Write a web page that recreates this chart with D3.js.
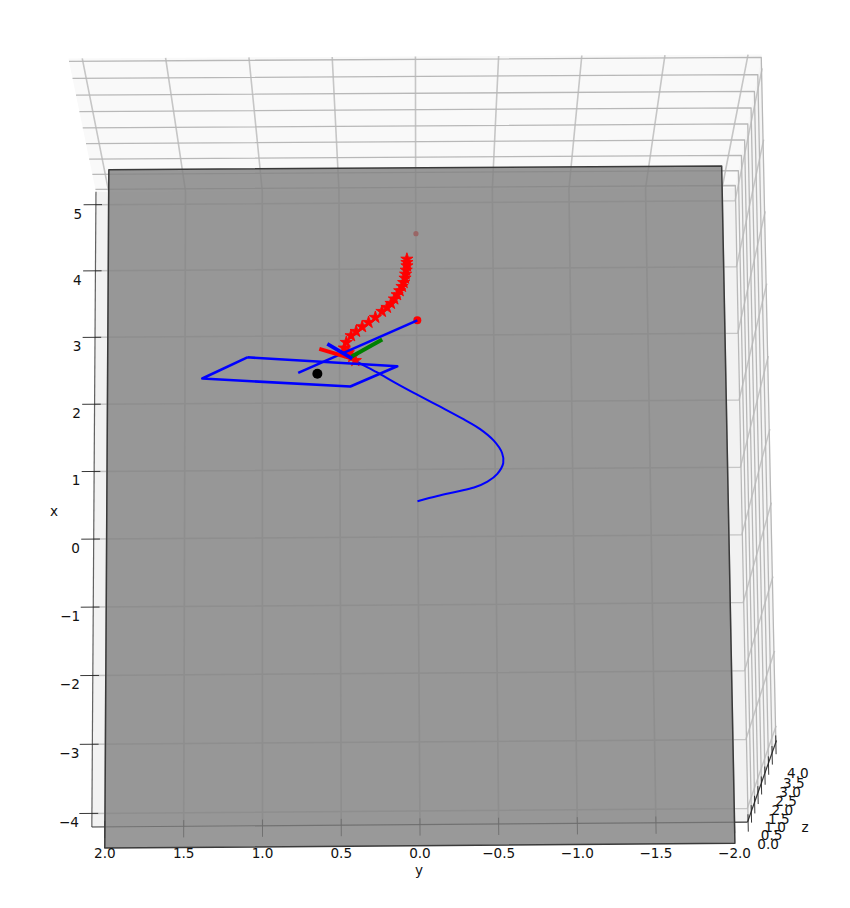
<!DOCTYPE html>
<html><head><meta charset="utf-8">
<script src="https://cdnjs.cloudflare.com/ajax/libs/d3/7.8.5/d3.min.js"></script>
<style>html,body{margin:0;padding:0;background:#fff}svg{display:block}text{font-family:"DejaVu Sans",sans-serif;font-size:13.6px;fill:#111}</style>
</head><body><svg id="c" width="850" height="908"></svg>
<script>
// ---- tick labels
const xTicks=[5,4,3,2,1,0,-1,-2,-3,-4];
const yTicks=[2,1.5,1,0.5,0,-0.5,-1,-1.5,-2];
const zTicks=[0,0.5,1,1.5,2,2.5,3,3.5,4];
// ---- axis limits and ground plane
const xLim=[-4.196,5.196], yLim=[-2.083,2.083], zLim=[-0.083,4.083];
const planeX=[-4.5,5.53], planeY=[-2,2];
// ---- series, as read on the ground plane (x, y)
const curveX=[0.527,0.601,0.667,0.724,0.810,0.925,1.085,1.234,1.422,1.592,1.741,1.930,2.115,2.279,2.452,2.586,2.627];
const curveY=[0.002,-0.127,-0.256,-0.363,-0.450,-0.514,-0.553,-0.546,-0.492,-0.406,-0.299,-0.149,0.002,0.131,0.260,0.368,0.398];
const starX=[4.147,4.096,4.046,3.981,3.921,3.861,3.795,3.736,3.671,3.612,3.548,3.482,3.422,3.362,3.273,3.198,3.134,3.064,3.000,2.900,2.816,2.746,2.686,2.627];
const starY=[0.060,0.060,0.060,0.065,0.069,0.073,0.082,0.093,0.108,0.125,0.143,0.165,0.191,0.224,0.267,0.311,0.353,0.392,0.425,0.456,0.469,0.443,0.418,0.398];
const gateX=[2.686,2.537,2.239,2.373,2.686];
const gateY=[1.097,0.127,0.431,1.388,1.097];
const longX=[3.224,2.448], longY=[-0.005,0.768];
const shortBlueX=[2.880,2.656], shortBlueY=[0.579,0.418];
const shortRedX=[2.806,2.656], shortRedY=[0.631,0.418];
const shortGreenX=[2.686,2.940], shortGreenY=[0.424,0.223];
const tipPoint=[3.224,-0.005], blackPoint=[2.433,0.644], faintPoint=[4.531,0.0];

// ---- camera calibration: box corners and tick feet (world -> screen)
const [x0,x1]=xLim,[y0,y1]=yLim,[z0,z1]=zLim;
const calib=[
 [x1,y1,z0,96,192],[x1,y0,z0,735,187],[x1,y1,z1,68,58],[x1,y0,z1,762,55],
 [x0,y1,z0,92,827],[x0,y0,z0,747,822],[x0,y0,z1,777,740],
 [5,y1,z0,96,205],[-4,y1,z0,92,814],[0,y1,z0,94,539],
 [x0,2,z0,105,826.5],[x0,0,z0,419,824.5],[x0,-2,z0,735,822.5],
 [x1,y1,4,69,61],[x1,y0,4,761,58]
];
function solve(A,b){const n=b.length,M=A.map((r,i)=>[...r,b[i]]);
 for(let i=0;i<n;i++){let p=i;for(let k=i+1;k<n;k++)if(Math.abs(M[k][i])>Math.abs(M[p][i]))p=k;[M[i],M[p]]=[M[p],M[i]];
  for(let k=i+1;k<n;k++){const f=M[k][i]/M[i][i];for(let j=i;j<=n;j++)M[k][j]-=f*M[i][j];}}
 const s=Array(n).fill(0);for(let i=n-1;i>=0;i--){let t=M[i][n];for(let j=i+1;j<n;j++)t-=M[i][j]*s[j];s[i]=t/M[i][i];}return s;}
const rows=[],rhs=[];
calib.forEach(([x,y,z,u,v])=>{
 rows.push([x,y,z,1,0,0,0,0,-u*x,-u*y,-u*z]);rhs.push(u);
 rows.push([0,0,0,0,x,y,z,1,-v*x,-v*y,-v*z]);rhs.push(v);});
const ATA=d3.range(11).map(i=>d3.range(11).map(j=>d3.sum(rows,r=>r[i]*r[j])));
const ATb=d3.range(11).map(i=>d3.sum(rows,(r,k)=>r[i]*rhs[k]));
const P=solve(ATA,ATb);
function proj(x,y,z){const w=P[8]*x+P[9]*y+P[10]*z+1;
 return [(P[0]*x+P[1]*y+P[2]*z+P[3])/w,(P[4]*x+P[5]*y+P[6]*z+P[7])/w];}
const fp=(x,y)=>proj(x,y,z0);

const svg=d3.select("#c");
const poly=(pts,fill,stroke,sw,op)=>svg.append("path").attr("d",d3.line()(pts)+"Z").attr("fill",fill).attr("stroke",stroke||"none").attr("stroke-width",sw||0).attr("fill-opacity",op==null?1:op).attr("stroke-linejoin","round");
const seg=(pts,stroke,sw,op)=>svg.append("path").attr("d",d3.line()(pts)).attr("fill","none").attr("stroke",stroke).attr("stroke-width",sw).attr("stroke-opacity",op==null?1:op).attr("stroke-linejoin","round");
// panes
poly([proj(x0,y1,z0),proj(x0,y0,z0),proj(x1,y0,z0),proj(x1,y1,z0)],"#f2f2f2");
poly([proj(x1,y1,z0),proj(x1,y0,z0),proj(x1,y0,z1),proj(x1,y1,z1)],"#f9f9f9");
poly([proj(x0,y0,z0),proj(x1,y0,z0),proj(x1,y0,z1),proj(x0,y0,z1)],"#f5f5f5");
// grid
xTicks.forEach(t=>seg([proj(t,y1,z0),proj(t,y0,z0),proj(t,y0,z1)],"#c6c6c6",1.5));
yTicks.forEach(t=>seg([proj(x0,t,z0),proj(x1,t,z0),proj(x1,t,z1)],"#c6c6c6",1.6));
zTicks.forEach(t=>seg([proj(x1,y1,t),proj(x1,y0,t),proj(x0,y0,t)],"#b8b8b8",1.3));
// axis lines
const ac="#222";
seg([proj(x0,y1,z0),proj(x1,y1,z0)],ac,1.2,.7);
seg([proj(x0,y1,z0),proj(x0,y0,z0)],ac,1.2,.9);
seg([proj(x0,y0,z0),proj(x0,y0,z1)],ac,1.2,.9);
// ticks
xTicks.forEach(t=>seg([proj(t,y1+0.08,z0),proj(t,y1-0.04,z0)],ac,1,.9));
yTicks.forEach(t=>seg([proj(x0+0.09,t,z0),proj(x0-0.16,t,z0)],ac,1,.9));
zTicks.forEach(t=>seg([proj(x0+0.09,y0,t),proj(x0-0.16,y0,t)],ac,1,.9));
// point under the ground plane
const fpp=fp(faintPoint[0],faintPoint[1]);
svg.append("circle").attr("cx",fpp[0]).attr("cy",fpp[1]).attr("r",2.6).attr("fill","#ff0000");
// ground plane
poly([fp(planeX[1],planeY[1]),fp(planeX[1],planeY[0]),fp(planeX[0],planeY[0]),fp(planeX[0],planeY[1])],"#808080","#3a3a3a",1.5,.8);
// labels
const fmt=v=>(v<0?"\u2212":"")+Math.abs(v);
const fmt1=v=>(v<0?"\u2212":"")+Math.abs(v).toFixed(1);
const label=(x,y,s)=>svg.append("text").attr("x",x).attr("y",y).attr("text-anchor","middle").attr("dominant-baseline","central").text(s);
xTicks.forEach(t=>{const p=proj(t,y1,z0);label(p[0]-18-(t<0?5:0),p[1]+9,fmt(t));});
yTicks.forEach(t=>{const p=proj(x0,t,z0);label(p[0],853,fmt1(t));});
zTicks.forEach(t=>{const p=proj(x0,y0,t);label(p[0]+20+0.5*t,p[1]+23+2*t,fmt1(t));});
label(54,511,"x");label(419,870,"y");label(805,827,"z");
// marks
const toPts=(a,b)=>a.map((v,i)=>fp(v,b[i]));
svg.append("path").attr("d",d3.line().curve(d3.curveCatmullRom)(toPts(curveX,curveY))).attr("fill","none").attr("stroke","#0000ff").attr("stroke-width",2);
const star=d3.symbol().type(d3.symbolStar).size(46)();
toPts(starX,starY).forEach(p=>svg.append("path").attr("d",star).attr("transform",`translate(${p[0]},${p[1]})`).attr("fill","#ff0000").attr("stroke","#ff0000").attr("stroke-width",0.9).attr("stroke-linejoin","round"));
const tp=fp(tipPoint[0],tipPoint[1]);
svg.append("circle").attr("cx",tp[0]).attr("cy",tp[1]).attr("r",4).attr("fill","#ff0000");
seg(toPts(gateX,gateY),"#0000ff",2.6);
seg(toPts(longX,longY),"#0000ff",2.6);
seg(toPts(shortRedX,shortRedY),"#ff0000",3.8);
seg(toPts(shortGreenX,shortGreenY),"#008000",4);
seg(toPts(shortBlueX,shortBlueY),"#0000ff",3.6);
const bp=fp(blackPoint[0],blackPoint[1]);
svg.append("circle").attr("cx",bp[0]).attr("cy",bp[1]).attr("r",5).attr("fill","#000");
</script></body></html>
